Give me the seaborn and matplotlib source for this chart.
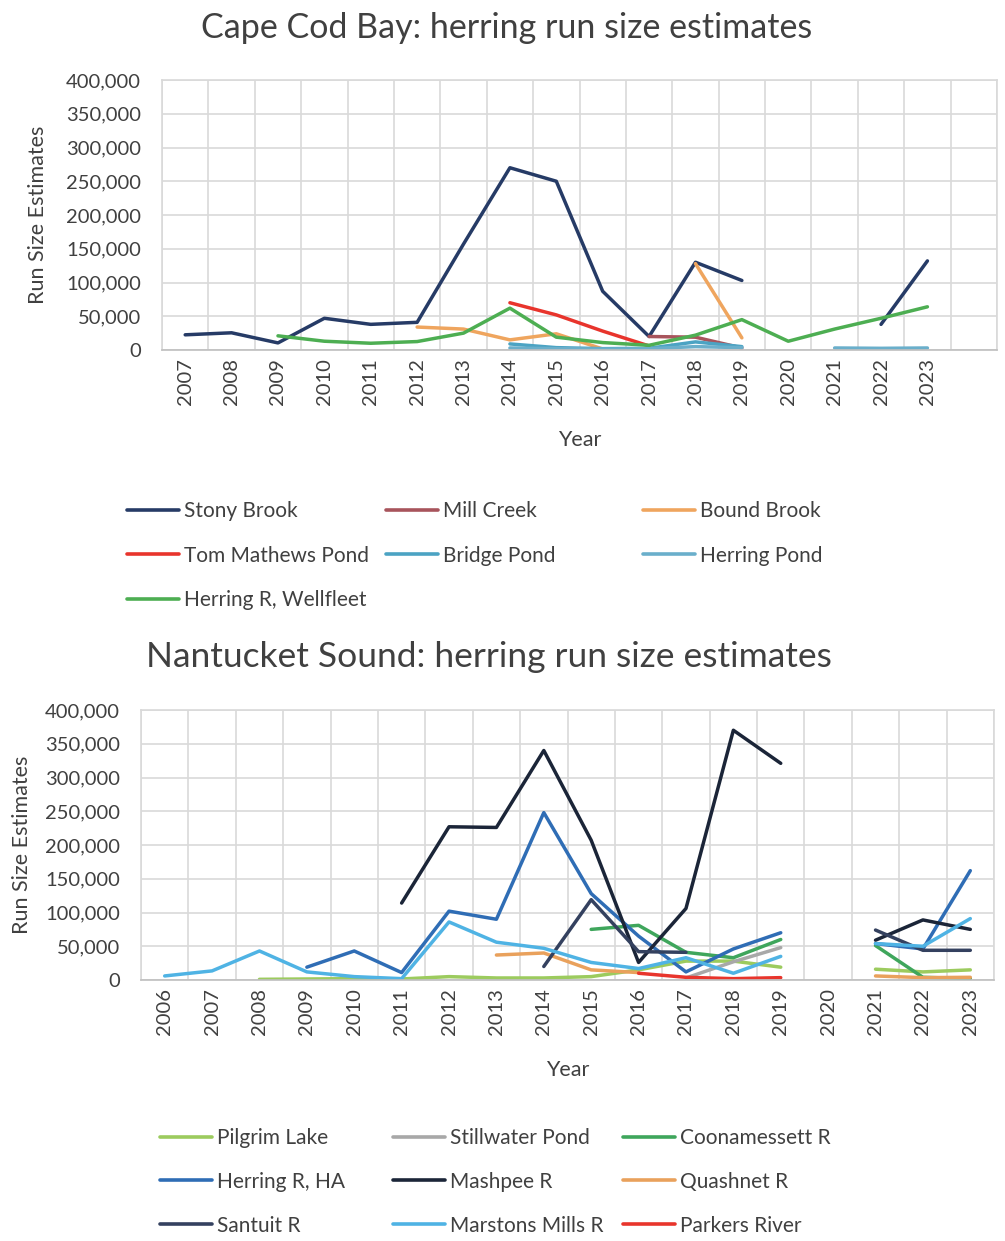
import numpy as np
import pandas as pd
import matplotlib
matplotlib.use("Agg")
import matplotlib.pyplot as plt
import seaborn as sns
from matplotlib.lines import Line2D
from matplotlib.ticker import FuncFormatter, FixedLocator

sns.set_theme(style="white")
plt.rcParams["font.family"] = ["Lato", "DejaVu Sans"]

N = np.nan

# ---------------- Cape Cod Bay ----------------
cc_years = list(range(2007, 2024))
stony_brook = [22500, 25500, 10500, 47000, 38000, 41000, 157000, 270000, 250000,
               87000, 20000, 130000, 103000, N, N, 38000, 132000]
mill_creek = [N, N, N, N, N, N, N, N, N, N, 20000, 19000, 3000, N, N, N, N]
bound_brook = [N, N, N, N, N, 34000, 31000, 15000, 24000, 1500, N, 128000, 18000,
               N, N, N, N]
tom_mathews = [N, N, N, N, N, N, N, 70000, 52000, 28000, 6000, N, N, N, N, N, N]
bridge_pond = [N, N, N, N, N, N, N, 9000, 3500, 2000, 2500, 12000, 5000, N, N, N, N]
herring_pond = [N, N, N, N, N, N, N, 3000, 2000, 1500, 2000, 5000, 3500, N,
                3000, 2500, 3000]
herring_wellfleet = [N, N, 21000, 13000, 10000, 12500, 25000, 62000, 19000, 11000,
                     7000, 22000, 45000, 13000, 31000, 47000, 64000]

cc_names = ["Stony Brook", "Mill Creek", "Bound Brook", "Tom Mathews Pond",
            "Bridge Pond", "Herring Pond", "Herring R, Wellfleet"]
cc_values = [stony_brook, mill_creek, bound_brook, tom_mathews, bridge_pond,
             herring_pond, herring_wellfleet]
cc_colors = ["#263B66", "#A8545C", "#EFA55E", "#E8342C", "#4BA3C3", "#6AAFCB",
             "#4DAE52"]

# ---------------- Nantucket Sound ----------------
ns_years = list(range(2006, 2024))
pilgrim_lake = [N, N, 1000, 1500, 2000, 1500, 5000, 3000, 3000, 5000, 15000, 28000,
                28000, 19000, N, 16000, 12000, 15000]
stillwater_pond = [N] * 11 + [3000, 27000, 48000, N, N, N, N]
coonamessett = [N] * 9 + [75000, 81000, 41000, 33000, 60000, N, 51000, 4000, 2000]
herring_ha = [N, N, N, 19000, 43000, 11000, 102000, 90000, 248000, 128000, 65000,
              12000, 46000, 70000, N, 54000, 46000, 162000]
mashpee = [N, N, N, N, N, 114000, 227000, 226000, 340000, 207000, 26000, 106000,
           370000, 321000, N, 59000, 89000, 75000]
quashnet = [N] * 7 + [37000, 40000, 15000, 11000, N, N, N, N, 6000, 3500, 4000]
santuit = [N] * 8 + [20000, 119000, 42000, 41000, N, N, N, 74000, 44000, 44000]
marstons_mills = [6000, 13500, 43000, 12000, 5000, 2000, 86000, 56000, 47000, 26000,
                  17000, 33000, 10000, 35000, N, 54000, 50000, 91000]
parkers_river = [N] * 10 + [10000, 4000, 2000, 3500, N, N, N, N]

ns_names = ["Pilgrim Lake", "Stillwater Pond", "Coonamessett R", "Herring R, HA",
            "Mashpee R", "Quashnet R", "Santuit R", "Marstons Mills R",
            "Parkers River"]
ns_values = [pilgrim_lake, stillwater_pond, coonamessett, herring_ha, mashpee,
             quashnet, santuit, marstons_mills, parkers_river]
ns_colors = ["#9CCB5E", "#A8A8A8", "#3FA65C", "#2F6DB5", "#1B2538", "#E9A15C",
             "#34415F", "#4FB3E4", "#E8352C"]


def to_long(years, names, values):
    """Long table; each unbroken run of values gets its own unit id."""
    rows = []
    for name, vals in zip(names, values):
        seg, gap = 0, True
        for yr, v in zip(years, vals):
            if v is None or np.isnan(v):
                gap = True
                continue
            if gap:
                seg += 1
                gap = False
            rows.append({"year": yr, "run": v, "site": name, "seg": f"{name}#{seg}"})
    return pd.DataFrame(rows)


GRID = "#D9D9D9"
TXT = "#404040"
FS = 14.5


def style_axes(ax, first, last, extra_cols, ylab_x):
    xmax = last + 0.5 + extra_cols
    ax.set_xlim(first - 0.5, xmax)
    ax.set_ylim(0, 400000)
    ax.set_xticks(range(first, last + 1))
    ax.set_xticklabels([str(y) for y in range(first, last + 1)], rotation=90)
    ax.xaxis.set_minor_locator(FixedLocator(np.arange(first - 0.5, xmax + 0.01, 1)))
    ax.set_yticks(range(0, 400001, 50000))
    ax.yaxis.set_major_formatter(FuncFormatter(lambda v, p: f"{int(v):,}"))
    ax.grid(False)
    ax.grid(which="minor", axis="x", color=GRID, linewidth=1.2)
    ax.grid(which="major", axis="y", color=GRID, linewidth=1.2)
    ax.set_axisbelow(True)
    ax.tick_params(which="both", length=0)
    ax.tick_params(axis="y", labelsize=FS, pad=15, colors=TXT)
    ax.tick_params(axis="x", labelsize=FS, pad=6, colors=TXT)
    for s in ["top", "left", "right"]:
        ax.spines[s].set_color(GRID)
        ax.spines[s].set_linewidth(1.2)
    ax.spines["bottom"].set_color("#BFBFBF")
    ax.spines["bottom"].set_linewidth(1.2)
    ax.set_xlabel("Year", fontsize=FS + 1, color=TXT, labelpad=18)
    ax.set_ylabel("Run Size Estimates", fontsize=FS + 1, color=TXT)
    ax.yaxis.set_label_coords(ylab_x, 0.5)


def add_legend_columns(fig, names, colors, col_order, col_x, top_y, spacing):
    handles = {n: Line2D([], [], color=c, linewidth=2.6) for n, c in zip(names, colors)}
    for x, col in zip(col_x, col_order):
        leg = fig.legend([handles[n] for n in col], col, loc="upper left",
                         bbox_to_anchor=(x / W, 1 - top_y / H), frameon=False,
                         fontsize=FS + 0.5, handlelength=2.5, handletextpad=0.25,
                         labelspacing=spacing, borderpad=0, borderaxespad=0)
        for t in leg.get_texts():
            t.set_color(TXT)


W, H = 1005, 1241
fig = plt.figure(figsize=(W / 100, H / 100), dpi=100)

# Cape Cod Bay panel
ax1 = fig.add_axes([162 / W, 1 - 350 / H, (997 - 162) / W, 270 / H])
df1 = to_long(cc_years, cc_names, cc_values)
sns.lineplot(data=df1, x="year", y="run", hue="site", hue_order=cc_names,
             units="seg", estimator=None, palette=dict(zip(cc_names, cc_colors)),
             linewidth=2.5, legend=False, ax=ax1)
style_axes(ax1, 2007, 2023, 1, -0.137)
fig.text(507 / W, 1 - 28 / H, "Cape Cod Bay: herring run size estimates",
         ha="center", va="center", fontsize=24.5, color=TXT)
add_legend_columns(fig, cc_names, cc_colors,
                   [["Stony Brook", "Tom Mathews Pond", "Herring R, Wellfleet"],
                    ["Mill Creek", "Bridge Pond"],
                    ["Bound Brook", "Herring Pond"]],
                   [127, 386, 643], 501, 1.18)

# Nantucket Sound panel
ax2 = fig.add_axes([141 / W, 1 - 980 / H, (994 - 141) / W, 270 / H])
df2 = to_long(ns_years, ns_names, ns_values)
sns.lineplot(data=df2, x="year", y="run", hue="site", hue_order=ns_names,
             units="seg", estimator=None, palette=dict(zip(ns_names, ns_colors)),
             linewidth=2.5, legend=False, ax=ax2)
style_axes(ax2, 2006, 2023, 0, -0.128)
fig.text(489 / W, 1 - 657 / H, "Nantucket Sound: herring run size estimates",
         ha="center", va="center", fontsize=25.5, color=TXT)
add_legend_columns(fig, ns_names, ns_colors,
                   [["Pilgrim Lake", "Herring R, HA", "Santuit R"],
                    ["Stillwater Pond", "Mashpee R", "Marstons Mills R"],
                    ["Coonamessett R", "Quashnet R", "Parkers River"]],
                   [160, 393, 623], 1128, 1.14)

fig.savefig("out.png", dpi=100, facecolor="white")
